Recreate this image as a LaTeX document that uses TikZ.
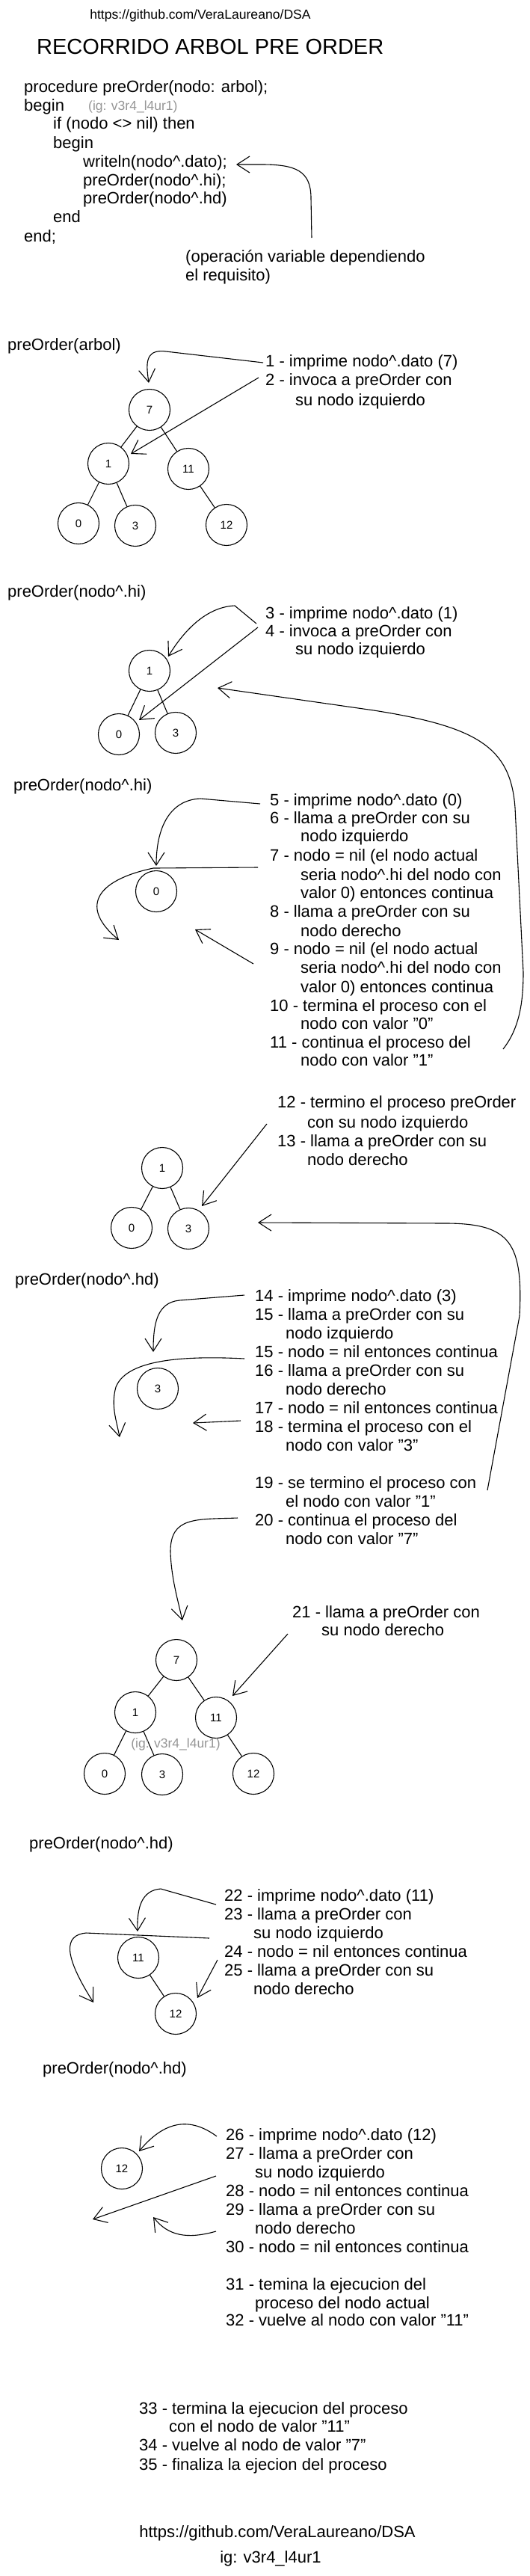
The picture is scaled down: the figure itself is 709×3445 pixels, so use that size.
\documentclass[tikz,border=0pt]{standalone}
\usepackage{fontspec}
\setmainfont{Liberation Sans}
\usetikzlibrary{arrows.meta}
\newcommand{\crt}{\textasciicircum}
\definecolor{igray}{RGB}{150,150,150}
\begin{document}
\begin{tikzpicture}[x=1pt,y=-1pt,
  txt/.style={anchor=west, inner sep=0pt, font=\fontsize{22}{26}\selectfont, text height=15.5pt, text depth=4.4pt},
  ctxt/.style={txt, anchor=center},
  gtxt/.style={txt, text=igray, font=\fontsize{17.5}{20}\selectfont, text height=12.4pt, text depth=3.5pt},
  nd/.style={circle, draw, line width=1.1pt, minimum size=55pt, inner sep=0pt, font=\fontsize{15}{18}\selectfont},
  edge/.style={line width=1.1pt},
  arr/.style={line width=1.1pt, -{Straight Barb[length=17pt,width=22pt]}}
]
\fill[white] (0,0) rectangle (709,3445);
\useasboundingbox (0,0) rectangle (709,3445);

% ---------- header ----------
\node[ctxt, font=\fontsize{17.6}{20}\selectfont] (url1) at (268,20) {https://github.com/VeraLaureano/DSA};
\node[txt, font=\fontsize{29}{34}\selectfont, text height=21pt, text depth=0pt] (title) at (49,62) {RECORRIDO ARBOL PRE ORDER};

\node[txt] (c1) at (32,118) {procedure preOrder(nodo: arbol);};
\node[txt] (c2) at (32,143) {begin};
\node[gtxt] (ig1) at (118,143) {(ig: v3r4\_l4ur1)};
\node[txt] (c3) at (71,167) {if (nodo <> nil) then};
\node[txt] (c4) at (71,193) {begin};
\node[txt] (c5) at (111,218) {writeln(nodo\crt.dato);};
\node[txt] (c6) at (111,243) {preOrder(nodo\crt.hi);};
\node[txt] (c7) at (111,267) {preOrder(nodo\crt.hd)};
\node[txt] (c8) at (71,292) {end};
\node[txt] (c9) at (32,318) {end;};
\node[txt] (op1) at (248,345) {(operación variable dependiendo};
\node[txt] (op2) at (248,370) {el requisito)};
\coordinate (k0) at (417,318);
\coordinate (k1) at (316,220);
\draw[arr] (k0) -- (416,265) .. controls (416,228) and (395,220) .. (350,220) -- (k1);

% ---------- section 1 ----------
\node[txt] (l1) at (10,463) {preOrder(arbol)};
\node[nd] (a7) at (200,548) {7};
\node[nd] (a1) at (145,620) {1};
\node[nd] (a11) at (252,627) {11};
\node[nd] (a0) at (105,700) {0};
\node[nd] (a3) at (181,703) {3};
\node[nd] (a12) at (303,702) {12};
\draw[edge] (a7) -- (a1);
\draw[edge] (a7) -- (a11);
\draw[edge] (a1) -- (a0);
\draw[edge] (a1) -- (a3);
\draw[edge] (a11) -- (a12);
\node[txt] (p1) at (355,485) {1 - imprime nodo\crt.dato (7)};
\node[txt] (p2) at (355,510) {2 - invoca a preOrder con};
\node[txt] (p2b) at (395,537) {su nodo izquierdo};
\coordinate (e1) at (199,512);
\coordinate (e2) at (175,607);
\draw[arr] ([xshift=-3pt]p1.west) -- (222,470) .. controls (192,466) and (196,490) .. (e1);
\draw[arr] ([xshift=-9pt,yshift=5pt]p2.west) -- (e2);

% ---------- section 2 ----------
\node[txt] (l2) at (10,793) {preOrder(nodo\crt.hi)};
\node[nd] (b1) at (200,897) {1};
\node[nd] (b0) at (159,982) {0};
\node[nd] (b3) at (235,980) {3};
\draw[edge] (b1) -- (b0);
\draw[edge] (b1) -- (b3);
\node[txt] (p3) at (355,822) {3 - imprime nodo\crt.dato (1)};
\node[txt] (p4) at (355,846) {4 - invoca a preOrder con};
\node[txt] (p4b) at (395,870) {su nodo izquierdo};
\coordinate (e3) at (225,878);
\coordinate (e4) at (186,963);
\coordinate (r1s) at (673,1403);
\coordinate (r1e) at (291,920);
\draw[arr] ([xshift=-12pt,yshift=-12pt]p3.west) -- (314,810) .. controls (272,812) and (242,850) .. (e3);
\draw[arr] ([xshift=-10pt,yshift=7pt]p4.west) -- (e4);
\draw[arr] (r1s) .. controls (695,1375) and (700,1340) .. (700,1300) -- (689,1080) .. controls (683,1000) and (640,972) .. (500,950) -- (r1e);

% ---------- section 3 ----------
\node[txt] (l3) at (18,1052) {preOrder(nodo\crt.hi)};
\node[nd] (n0) at (209,1192) {0};
\node[txt] (q5) at (361,1072) {5 - imprime nodo\crt.dato (0)};
\node[txt] (q6) at (361,1096) {6 - llama a preOrder con su};
\node[txt] (q6b) at (402,1120) {nodo izquierdo};
\node[txt] (q7) at (361,1146) {7 - nodo = nil (el nodo actual};
\node[txt] (q7b) at (402,1172) {seria nodo\crt.hi del nodo con};
\node[txt] (q7c) at (402,1196) {valor 0) entonces continua};
\node[txt] (q8) at (361,1221) {8 - llama a preOrder con su};
\node[txt] (q8b) at (402,1247) {nodo derecho};
\node[txt] (q9) at (361,1271) {9 - nodo = nil (el nodo actual};
\node[txt] (q9b) at (402,1296) {seria nodo\crt.hi del nodo con};
\node[txt] (q9c) at (402,1322) {valor 0) entonces continua};
\node[txt] (q10) at (361,1347) {10 - termina el proceso con el};
\node[txt] (q10b) at (402,1371) {nodo con valor "0"};
\node[txt] (q11) at (361,1396) {11 - continua el proceso del};
\node[txt] (q11b) at (402,1420) {nodo con valor "1"};
\coordinate (e5) at (209,1158);
\coordinate (e7) at (159,1257);
\coordinate (e9) at (261,1243);
\draw[arr] ([xshift=-13pt,yshift=-3pt]q5.west) -- (268,1068) .. controls (225,1070) and (209,1110) .. (e5);
\draw[arr] ([xshift=-16pt,yshift=-14pt]q7.west) -- (205,1161) .. controls (125,1178) and (108,1215) .. (e7);
\draw[arr] ([xshift=-22pt,yshift=-18pt]q9.west) -- (e9);

% ---------- section 4 ----------
\node[txt] (q12) at (371,1476) {12 - termino el proceso preOrder};
\node[txt] (q12b) at (411,1503) {con su nodo izquierdo};
\node[txt] (q13) at (371,1528) {13 - llama a preOrder con su};
\node[txt] (q13b) at (411,1553) {nodo derecho};
\node[nd] (d1) at (217,1562) {1};
\node[nd] (d0) at (176,1642) {0};
\node[nd] (d3) at (252,1643) {3};
\draw[edge] (d1) -- (d0);
\draw[edge] (d1) -- (d3);
\coordinate (e13s) at (357,1503);
\coordinate (e13) at (270,1613);
\draw[arr] (e13s) -- (e13);
\coordinate (r2s) at (652,1993);
\coordinate (r2e) at (345,1635);
\draw[arr] (r2s) -- (695,1760) .. controls (700,1662) and (682,1637) .. (600,1636) -- (r2e);

% ---------- section 5 ----------
\node[txt] (l5) at (20,1713) {preOrder(nodo\crt.hd)};
\node[nd] (m3) at (211,1857) {3};
\node[txt] (u14) at (341,1735) {14 - imprime nodo\crt.dato (3)};
\node[txt] (u15) at (341,1760) {15 - llama a preOrder con su};
\node[txt] (u15b) at (382,1785) {nodo izquierdo};
\node[txt] (u15c) at (341,1810) {15 - nodo = nil entonces continua};
\node[txt] (u16) at (341,1835) {16 - llama a preOrder con su};
\node[txt] (u16b) at (382,1860) {nodo derecho};
\node[txt] (u17) at (341,1885) {17 - nodo = nil entonces continua};
\node[txt] (u18) at (341,1910) {18 - termina el proceso con el};
\node[txt] (u18b) at (382,1935) {nodo con valor "3"};
\node[txt] (u19) at (341,1985) {19 - se termino el proceso con};
\node[txt] (u19b) at (382,2010) {el nodo con valor "1"};
\node[txt] (u20) at (341,2035) {20 - continua el proceso del};
\node[txt] (u20b) at (382,2060) {nodo con valor "7"};
\coordinate (e14) at (205,1808);
\coordinate (e15) at (160,1922);
\coordinate (e17) at (258,1903);
\coordinate (e20) at (244,2167);
\draw[arr] ([xshift=-14pt,yshift=3pt]u14.west) -- (240,1739) .. controls (210,1742) and (205,1770) .. (e14);
\draw[arr] ([xshift=-14pt,yshift=-7pt]u15c.west) .. controls (230,1812) and (168,1822) .. (155,1855) .. controls (148,1880) and (156,1900) .. (e15);
\draw[arr] ([xshift=-19pt,yshift=-15pt]u17.west) -- (e17);
\draw[arr] ([xshift=-23pt,yshift=5pt]u20.west) .. controls (262,2032) and (228,2028) .. (228,2075) .. controls (229,2110) and (238,2140) .. (e20);

% ---------- section 6 ----------
\node[txt] (u21) at (391,2158) {21 - llama a preOrder con};
\node[txt] (u21b) at (430,2182) {su nodo derecho};
\node[nd] (f7) at (236,2220) {7};
\node[nd] (f1) at (181,2290) {1};
\node[nd] (f11) at (289,2297) {11};
\node[nd] (f0) at (140,2372) {0};
\node[nd] (f3) at (217,2373) {3};
\node[nd] (f12) at (339,2372) {12};
\draw[edge] (f7) -- (f1);
\draw[edge] (f7) -- (f11);
\draw[edge] (f1) -- (f0);
\draw[edge] (f1) -- (f3);
\draw[edge] (f11) -- (f12);
\node[gtxt, anchor=center] (ig2) at (235,2333) {(ig: v3r4\_l4ur1)};
\coordinate (e21s) at (385,2185);
\coordinate (e21) at (311,2268);
\draw[arr] (e21s) -- (e21);

% ---------- section 7 ----------
\node[txt] (l7) at (39,2467) {preOrder(nodo\crt.hd)};
\node[nd] (g11) at (185,2618) {11};
\node[nd] (g12) at (235,2693) {12};
\draw[edge] (g11) -- (g12);
\node[txt] (v22) at (300,2537) {22 - imprime nodo\crt.dato (11)};
\node[txt] (v23) at (300,2562) {23 - llama a preOrder con};
\node[txt] (v23b) at (339,2587) {su nodo izquierdo};
\node[txt] (v24) at (300,2612) {24 - nodo = nil entonces continua};
\node[txt] (v25) at (300,2637) {25 - llama a preOrder con su};
\node[txt] (v25b) at (339,2662) {nodo derecho};
\coordinate (e22) at (184,2583);
\coordinate (e23) at (125,2678);
\coordinate (e25) at (264,2672);
\draw[arr] ([xshift=-11pt,yshift=-10pt]v22.west) -- (215,2526) .. controls (190,2528) and (183,2550) .. (e22);
\draw[arr] ([xshift=-59pt,yshift=-5pt]v23b.west) -- (115,2585) .. controls (85,2588) and (85,2615) .. (e23);
\draw[arr] ([xshift=-9pt,yshift=16pt]v25.west) -- (e25);

% ---------- section 8 ----------
\node[txt] (l8) at (57,2768) {preOrder(nodo\crt.hd)};
\node[nd] (h12) at (163,2900) {12};
\node[txt] (w26) at (302,2857) {26 - imprime nodo\crt.dato (12)};
\node[txt] (w27) at (302,2882) {27 - llama a preOrder con};
\node[txt] (w27b) at (341,2907) {su nodo izquierdo};
\node[txt] (w28) at (302,2932) {28 - nodo = nil entonces continua};
\node[txt] (w29) at (302,2957) {29 - llama a preOrder con su};
\node[txt] (w29b) at (341,2982) {nodo derecho};
\node[txt] (w30) at (302,3007) {30 - nodo = nil entonces continua};
\node[txt] (w31) at (302,3057) {31 - temina la ejecucion del};
\node[txt] (w31b) at (341,3082) {proceso del nodo actual};
\node[txt] (w32) at (302,3105) {32 - vuelve al nodo con valor "11"};
\coordinate (e26) at (186,2877);
\coordinate (e27) at (124,2968);
\coordinate (e29) at (205,2965);
\draw[arr] ([xshift=-12pt]w26.west) .. controls (260,2835) and (225,2830) .. (e26);
\draw[arr] ([xshift=-52pt,yshift=-3pt]w27b.west) -- (e27);
\draw[arr] ([xshift=-52pt,yshift=-2pt]w29b.west) .. controls (250,2995) and (225,2990) .. (e29);

% ---------- section 9 ----------
\node[txt] (z33) at (186,3223) {33 - termina la ejecucion del proceso};
\node[txt] (z33b) at (226,3247) {con el nodo de valor "11"};
\node[txt] (z34) at (186,3272) {34 - vuelve al nodo de valor "7"};
\node[txt] (z35) at (186,3298) {35 - finaliza la ejecion del proceso};
\node[ctxt] (url2) at (371,3388) {https://github.com/VeraLaureano/DSA};
\node[ctxt] (ig3) at (362,3422) {ig: v3r4\_l4ur1};
\end{tikzpicture}
\end{document}
